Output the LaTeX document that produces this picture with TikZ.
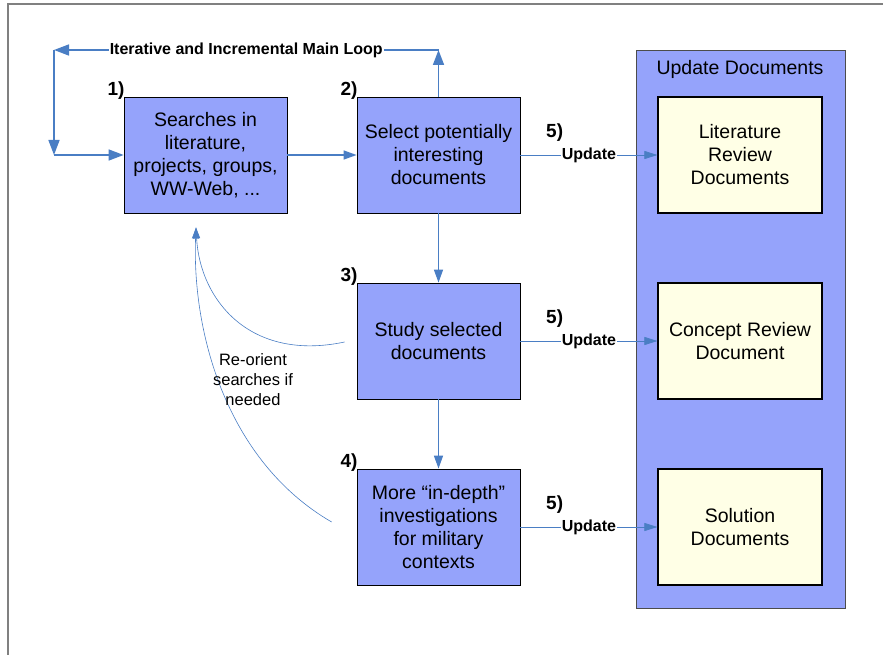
\documentclass[tikz,border=0pt]{standalone}
\usepackage{fontspec}
\setmainfont{Liberation Sans}
\usetikzlibrary{arrows.meta,positioning}
\definecolor{boxblue}{HTML}{95A3FB}
\definecolor{linkblue}{HTML}{4A7EC4}
\definecolor{docyellow}{HTML}{FFFFE6}

\begin{document}
\begin{tikzpicture}[x=1pt,y=-1pt,
  stepbox/.style={draw=black, fill=boxblue, line width=0.8pt, minimum width=163pt,
    minimum height=116pt, inner sep=0pt, align=center,
    font=\fontsize{19.5}{23}\selectfont},
  docbox/.style={stepbox, fill=docyellow, line width=1.2pt, minimum width=164pt},
  num/.style={inner sep=0pt, text=black, font=\fontsize{19}{19}\bfseries\selectfont},
  linklabel/.style={fill=white, inner sep=1pt, text=black, font=\fontsize{16}{16}\bfseries\selectfont},
  looparrow/.style={linkblue, line width=1.6pt, -{Triangle[length=15pt,width=11pt]}},
  flow/.style={linkblue, line width=1.4pt, -{Triangle[length=13pt,width=9pt]}},
  updarrow/.style={linkblue, line width=0.6pt, -{Triangle[length=13pt,width=8pt]}},
  backarrow/.style={linkblue, line width=0.6pt, -{Triangle[length=11pt,width=7pt]}}]

  \def\docx{740}

  \useasboundingbox (0,0) rectangle (883,655);

  % Frame
  \draw[gray, line width=1.5pt] (8,655) -- (8,4) -- (883,4);

  % Update documents container
  \node[draw=black!70, fill=boxblue, minimum width=209pt, minimum height=558pt,
    inner sep=0pt, anchor=north west] (updbox) at (636,50) {};
  \node[anchor=base, font=\fontsize{19.5}{23}\selectfont] (updtitle) at (\docx,75) {Update Documents};

  % Steps
  \node[stepbox] (search) at (205.5,155) {Searches in\\literature,\\projects, groups,\\WW-Web, ...};
  \node[stepbox] (select) at (438.5,155) {Select potentially\\interesting\\documents};
  \node[stepbox] (study)  at (438.5,341) {Study selected\\documents};
  \node[stepbox] (depth)  at (438.5,527) {More “in-depth”\\investigations\\for military\\contexts};

  \node[num, anchor=base east] at ([xshift=1pt,yshift=1pt]search.north west) {1)};
  \node[num, anchor=base east] at ([xshift=1pt,yshift=1pt]select.north west) {2)};
  \node[num, anchor=base east] at ([xshift=1pt,yshift=1pt]study.north west) {3)};
  \node[num, anchor=base east] at ([xshift=1pt,yshift=1pt]depth.north west) {4)};

  % Documents
  \node[docbox] (litdoc)  at (\docx,155) {Literature\\Review\\Documents};
  \node[docbox] (condoc)  at (\docx,341) {Concept Review\\Document};
  \node[docbox] (soldoc)  at (\docx,527) {Solution\\Documents};

  % Main loop
  \coordinate (loopR) at (select.north |- 0,50);
  \coordinate (loopL) at (54,50);
  \coordinate (loopB) at (loopL |- search.west);
  \draw[looparrow] (select.north) -- (loopR);
  \draw[looparrow] (loopR) -- node[linklabel] {Iterative and Incremental Main Loop} (loopL);
  \draw[looparrow] (loopL) -- (loopB);
  \draw[looparrow] (loopB) -- (search.west);

  % Flow
  \draw[flow] (search) -- (select);
  \draw[flow] (select) -- (study);
  \draw[flow] (study) -- (depth);

  % Updates
  \foreach \src/\dst in {select/litdoc, study/condoc, depth/soldoc}{
    \draw[updarrow] (\src) -- node[linklabel] {Update}
      node[num, pos=0.25, above=13pt] {5)} (\dst);
  }

  % Re-orient searches
  \coordinate (reorient) at ([xshift=-9.5pt,yshift=-14pt]search.south);
  \coordinate (fromstudy) at ([xshift=-12pt,yshift=-1pt]study.west);
  \coordinate (fromdepth) at ([xshift=-25pt,yshift=5pt]depth.west);
  \draw[backarrow] (fromstudy) .. controls (250,362) and (200,300) .. (reorient);
  \draw[backarrow] (fromdepth) .. controls (225,460) and (192,330) .. (reorient);
  \node[align=center, font=\fontsize{16.5}{20}\selectfont] (reolabel) at (253,380)
    {Re-orient\\searches if\\needed};
\end{tikzpicture}
\end{document}
